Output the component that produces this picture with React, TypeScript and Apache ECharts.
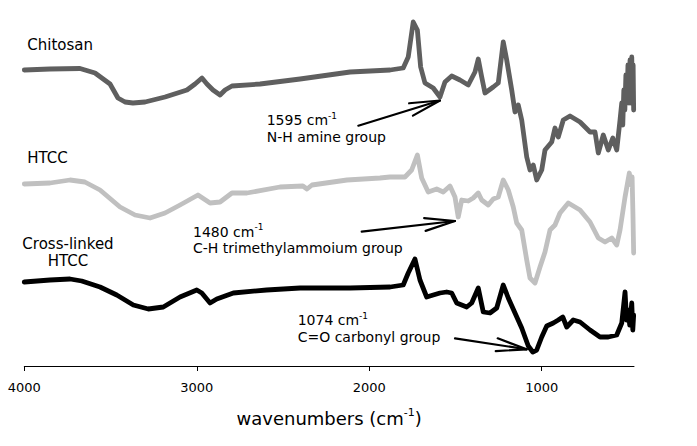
import React, { useEffect, useRef } from "react";
import * as echarts from "echarts";

const FONT = "DejaVu Sans";
const xTicks = [4000, 3000, 2000, 1000];
const xMin = 465;
const xMax = 4000;

// [wavenumber (cm-1), intensity (a.u., offset per spectrum)]
const chitosan: [number, number][] = [
  [4000, 295], [3851, 296], [3677, 296.5], [3590, 292], [3503, 281], [3457, 267], [3416, 263], [3370, 262],
  [3300, 263], [3184, 268], [3057, 275], [3010, 281], [2970, 287], [2941, 281], [2906, 275], [2865, 270],
  [2836, 275], [2796, 279], [2633, 281], [2401, 286], [2111, 293], [1879, 295], [1803, 297], [1774, 308],
  [1745, 343], [1721, 335], [1702, 298], [1677, 282], [1629, 277], [1590, 268], [1561, 283], [1522, 289],
  [1474, 285], [1426, 280], [1387, 293], [1368, 306], [1348, 288], [1329, 272], [1281, 278], [1252, 282],
  [1223, 323], [1203, 305], [1174, 275], [1155, 253], [1136, 260], [1116, 245], [1087, 208], [1068, 195],
  [1049, 200], [1029, 185], [1000, 195], [981, 215], [942, 223], [923, 237], [904, 228], [875, 245],
  [836, 249], [778, 243], [720, 233], [691, 233], [672, 212], [643, 230], [614, 215], [588, 227],
  [565, 215], [546, 245], [536, 262], [530, 240], [524, 275], [518, 255], [512, 290], [506, 262],
  [500, 300], [494, 262], [488, 305], [483, 262], [478, 308], [474, 262], [470, 300], [467, 255],
];

const htcc: [number, number][] = [
  [4000, 181], [3851, 182], [3735, 185], [3649, 183], [3561, 175], [3445, 158], [3358, 150], [3271, 147],
  [3184, 152], [3097, 160], [2993, 170], [2923, 162], [2865, 163], [2796, 172], [2709, 172], [2518, 178],
  [2385, 179], [2361, 176], [2332, 180], [2129, 185], [1938, 187], [1880, 188], [1793, 188], [1754, 195],
  [1721, 210], [1696, 187], [1658, 173], [1609, 176], [1571, 173], [1532, 179], [1503, 168], [1484, 148],
  [1464, 165], [1426, 164], [1397, 167], [1368, 172], [1348, 165], [1310, 160], [1281, 166], [1252, 168],
  [1223, 185], [1194, 175], [1165, 158], [1145, 142], [1116, 135], [1087, 105], [1068, 87], [1039, 82],
  [1010, 98], [981, 113], [952, 135], [923, 140], [894, 152], [846, 162], [778, 155], [720, 143],
  [672, 127], [633, 123], [594, 127], [565, 120], [546, 135], [517, 168], [492, 192], [482, 180],
  [476, 188], [471, 150], [467, 112],
];

const crosslinked: [number, number][] = [
  [4000, 83], [3851, 85], [3735, 86], [3667, 84], [3561, 78], [3464, 70], [3368, 60], [3281, 56],
  [3194, 58], [3097, 68], [3000, 75], [2971, 72], [2923, 62], [2884, 66], [2788, 72], [2595, 75],
  [2401, 77], [2111, 77], [1879, 78], [1803, 80], [1774, 92], [1735, 106], [1706, 85], [1667, 68],
  [1629, 70], [1590, 72], [1551, 73], [1522, 72], [1493, 62], [1435, 58], [1406, 62], [1368, 77],
  [1339, 53], [1300, 52], [1261, 57], [1223, 80], [1194, 67], [1155, 52], [1116, 37], [1078, 19],
  [1052, 13], [1029, 15], [1000, 28], [971, 39], [933, 42], [904, 45], [878, 48], [855, 38],
  [817, 45], [778, 43], [720, 35], [662, 28], [614, 28], [565, 30], [536, 42], [517, 73],
  [508, 45], [498, 55], [490, 40], [478, 62], [472, 35], [467, 50],
];

const seriesNames = ["Chitosan", "HTCC", "Cross-linked HTCC"];
const seriesColors = ["#5f5f5f", "#c0c0c0", "#000000"];

function supText(main: string, sup: string, x: number, y: number, size: number) {
  return {
    type: "text",
    x,
    y,
    style: {
      text: `{n|${main}}{s|${sup}}`,
      fill: "#000",
      textVerticalAlign: "middle",
      verticalAlign: "middle",
      rich: {
        n: { fontSize: size, fontFamily: FONT, fill: "#000", lineHeight: size + 4 },
        s: { fontSize: Math.round(size * 0.62), fontFamily: FONT, fill: "#000", lineHeight: 8, verticalAlign: "top" },
      },
    },
  };
}

function plainText(t: string, x: number, y: number, size: number, align = "left") {
  return {
    type: "text",
    x,
    y,
    style: {
      text: t,
      fill: "#000",
      fontSize: size,
      fontFamily: FONT,
      textAlign: align,
      align,
      textVerticalAlign: "middle",
      verticalAlign: "middle",
    },
  };
}

function arrow(sx: number, sy: number, tx: number, ty: number, len = 31, spreadDeg = 12) {
  const ang = Math.atan2(sy - ty, sx - tx);
  const sp = (spreadDeg * Math.PI) / 180;
  const w1 = [tx + len * Math.cos(ang - sp), ty + len * Math.sin(ang - sp)];
  const w2 = [tx + len * Math.cos(ang + sp), ty + len * Math.sin(ang + sp)];
  const st = { stroke: "#000", lineWidth: 2.2, fill: null, lineCap: "round", lineJoin: "round" };
  return [
    { type: "line", shape: { x1: sx, y1: sy, x2: tx, y2: ty }, style: st },
    { type: "polyline", shape: { points: [w1, [tx, ty], w2] }, style: st },
  ];
}

export default function App() {
  const ref = useRef<HTMLDivElement>(null);
  useEffect(() => {
    if (!ref.current) return;
    const chart = echarts.init(ref.current, null, { renderer: "svg" });
    const data = [chitosan, htcc, crosslinked];
    const option: any = {
      animation: false,
      backgroundColor: "#fff",
      grid: { left: 24.3, right: 63, top: 0, bottom: 80, containLabel: false },
      xAxis: {
        type: "value",
        inverse: true,
        min: xMin,
        max: xMax,
        splitLine: { show: false },
        axisLine: { show: true, onZero: false, lineStyle: { color: "#000", width: 1 } },
        axisTick: { show: true, customValues: xTicks, length: 5, lineStyle: { color: "#000", width: 1 } },
        axisLabel: {
          customValues: xTicks,
          formatter: (v: number) => String(v),
          margin: 15,
          fontSize: 13,
          fontFamily: FONT,
          color: "#000",
          showMinLabel: true,
          showMaxLabel: true,
        },
        name: "{a|wavenumbers (cm}{s|-1}{a|)}",
        nameLocation: "middle",
        nameGap: 41,
        nameTextStyle: {
          rich: {
            a: { fontSize: 18, fontFamily: FONT, color: "#000", lineHeight: 22 },
            s: { fontSize: 11, fontFamily: FONT, color: "#000", lineHeight: 12, verticalAlign: "top" },
          },
        },
      },
      yAxis: { type: "value", min: -1, max: 365, show: false },
      series: data.map((d, i) => ({
        name: seriesNames[i],
        type: "line",
        data: d,
        showSymbol: false,
        symbol: "none",
        clip: false,
        lineStyle: { color: seriesColors[i], width: 4.8, cap: "round", join: "round" },
        z: 3 - i,
      })),
      graphic: [
        plainText("Chitosan", 27.3, 45, 15),
        plainText("HTCC", 27.3, 158.3, 15),
        plainText("Cross-linked", 68, 244.3, 15, "center"),
        plainText("HTCC", 68, 261.3, 15, "center"),
        supText("1595 cm", "-1", 266.7, 120, 14),
        plainText("N-H amine group", 266.7, 136.7, 14),
        supText("1480 cm", "-1", 193, 231.7, 14),
        plainText("C-H trimethylammoium group", 193, 248, 14),
        supText("1074 cm", "-1", 297.7, 320, 14),
        plainText("C=O carbonyl group", 297.7, 336.7, 14),
        ...arrow(358.3, 125.7, 440, 100.5),
        ...arrow(361.7, 231.7, 455, 221),
        ...arrow(455, 338.3, 526.7, 349.3),
      ],
    };
    chart.setOption(option);
    return () => chart.dispose();
  }, []);
  return (
    <div
      ref={ref}
      style={{ position: "fixed", left: 0, top: 0, width: 697, height: 446, background: "#fff" }}
    />
  );
}
